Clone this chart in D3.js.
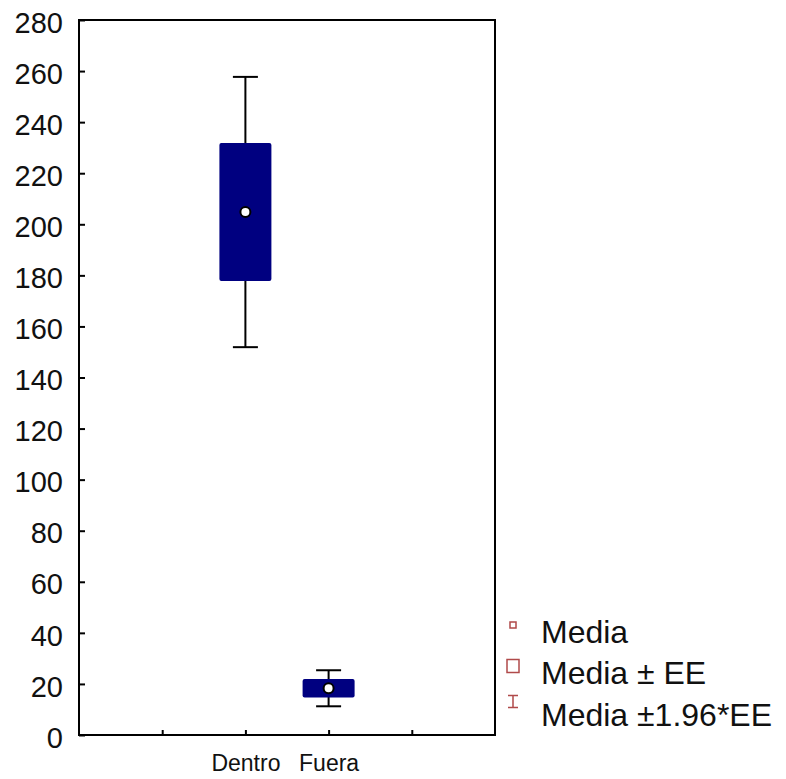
<!DOCTYPE html>
<html>
<head>
<meta charset="utf-8">
<script src="https://cdn.jsdelivr.net/npm/d3@7"></script>
<style>
  html, body { margin: 0; padding: 0; background: #fff; }
  svg { display: block; font-family: "Liberation Sans", Arial, sans-serif; }
</style>
</head>
<body>
<svg id="chart" width="786" height="779"></svg>
<script>
// Group means and standard errors
const categories = ["Dentro", "Fuera"];
const means = [204.8, 18.3];
const stdErrors = [27.0, 3.6];
const yTicks = [0, 20, 40, 60, 80, 100, 120, 140, 160, 180, 200, 220, 240, 260, 280];
const legendLabels = ["Media", "Media ± EE", "Media ±1.96*EE"];

const svg = d3.select("#chart");
const plotLeft = 79, plotRight = 495, plotTop = 20, plotBottom = 735;

// Five equal slots along x; the groups sit at slots 0 and 1 of [-2, 3]
const x = d3.scaleLinear().domain([-2, 3]).range([plotLeft, plotRight]);
const y = d3.scaleLinear().domain([0, 280]).range([plotBottom, plotTop]);

const boxW = 52, capW = 25;
const navy = "#000080";

const g = svg.append("g");
categories.forEach((c, i) => {
  const cx = x(i);
  const lo = means[i] - 1.96 * stdErrors[i];
  const hi = means[i] + 1.96 * stdErrors[i];
  // Whiskers (mean ± 1.96*SE)
  g.append("line").attr("x1", cx).attr("x2", cx).attr("y1", y(hi)).attr("y2", y(lo))
    .attr("stroke", "#000").attr("stroke-width", 2);
  [lo, hi].forEach(v => {
    g.append("line").attr("x1", cx - capW / 2).attr("x2", cx + capW / 2)
      .attr("y1", y(v)).attr("y2", y(v)).attr("stroke", "#000").attr("stroke-width", 2);
  });
  // Box (mean ± SE)
  g.append("rect")
    .attr("x", cx - boxW / 2).attr("width", boxW)
    .attr("y", y(means[i] + stdErrors[i]))
    .attr("height", y(means[i] - stdErrors[i]) - y(means[i] + stdErrors[i]))
    .attr("rx", 2).attr("fill", navy);
  // Mean marker
  g.append("circle").attr("cx", cx).attr("cy", y(means[i])).attr("r", 5)
    .attr("fill", "#fff").attr("stroke", "#000").attr("stroke-width", 2);
});

// Y axis with inward ticks
const yAxis = svg.append("g").attr("transform", `translate(${plotLeft},0)`)
  .call(d3.axisLeft(y).tickValues(yTicks).tickSize(-6).tickPadding(16));
yAxis.select(".domain").remove();
yAxis.selectAll(".tick line").attr("stroke", "#000").attr("stroke-width", 2);
yAxis.selectAll(".tick text").attr("font-size", 29).attr("fill", "#111")
  .attr("font-family", "Liberation Sans, Arial, sans-serif").attr("dy", "0.42em");

// X axis with inward ticks and group labels
const xAxis = svg.append("g").attr("transform", `translate(0,${plotBottom})`)
  .call(d3.axisBottom(x).tickValues([-1, 0, 1, 2]).tickSize(-5).tickPadding(20)
    .tickFormat(d => categories[d] || ""));
xAxis.select(".domain").remove();
xAxis.selectAll(".tick line").attr("stroke", "#000").attr("stroke-width", 2);
xAxis.selectAll(".tick text").attr("font-size", 23).attr("fill", "#111")
  .attr("font-family", "Liberation Sans, Arial, sans-serif");

// Frame
svg.append("rect").attr("x", plotLeft).attr("y", plotTop)
  .attr("width", plotRight - plotLeft).attr("height", plotBottom - plotTop)
  .attr("fill", "none").attr("stroke", "#000").attr("stroke-width", 2);

// Legend
const legColor = "#b04a4a";
const lg = svg.append("g");
const baselines = [643, 684, 726];
const markX = 513;
lg.append("rect").attr("x", markX - 3).attr("y", 622).attr("width", 6).attr("height", 6)
  .attr("fill", "none").attr("stroke", legColor).attr("stroke-width", 1.5);
lg.append("rect").attr("x", markX - 6).attr("y", 659.5).attr("width", 12).attr("height", 13)
  .attr("fill", "none").attr("stroke", legColor).attr("stroke-width", 1.5);
lg.append("path").attr("d", `M${markX - 5},695.5 H${markX + 5} M${markX},695.5 V707.5 M${markX - 5},707.5 H${markX + 5}`)
  .attr("fill", "none").attr("stroke", legColor).attr("stroke-width", 1.5);
legendLabels.forEach((t, i) => {
  lg.append("text").attr("x", 541).attr("y", baselines[i]).attr("font-size", 32)
    .attr("fill", "#111").text(t);
});
</script>
</body>
</html>
